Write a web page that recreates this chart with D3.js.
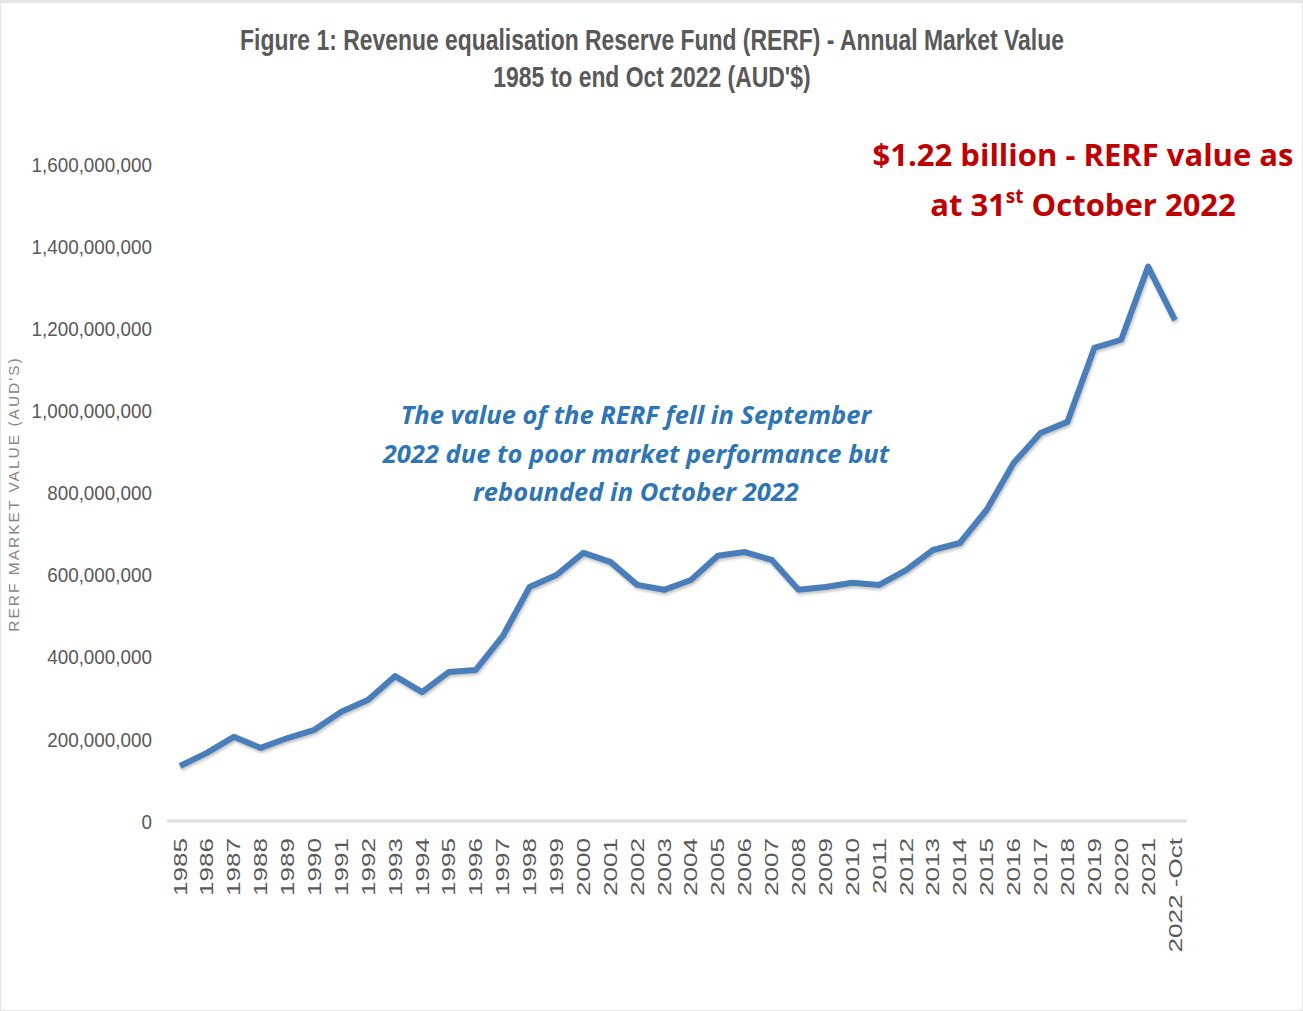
<!DOCTYPE html>
<html>
<head>
<meta charset="utf-8">
<script src="https://cdn.jsdelivr.net/npm/d3@7"></script>
<style>
  body { margin: 0; background: #fff; }
  svg { display: block; }
  .title { font-family: "Liberation Sans", Arial, sans-serif; font-weight: bold; fill: #595959; font-size: 29px; }
  .tick text { font-family: "Liberation Sans", Arial, sans-serif; fill: #595959; }
  .note { font-family: "Open Sans", "Noto Sans", sans-serif; font-style: italic; font-weight: bold; fill: #2E75B6; font-size: 25.5px; }
  .red { font-family: "Open Sans", "Noto Sans", sans-serif; font-weight: bold; fill: #C00000; font-size: 31px; }
</style>
</head>
<body>
<svg id="chart" width="1303" height="1011"></svg>
<script>
const years = ["1985","1986","1987","1988","1989","1990","1991","1992","1993","1994",
  "1995","1996","1997","1998","1999","2000","2001","2002","2003","2004",
  "2005","2006","2007","2008","2009","2010","2011","2012","2013","2014",
  "2015","2016","2017","2018","2019","2020","2021","2022 -Oct"];

const marketValue = [134e6, 166e6, 205e6, 178e6, 202e6, 222e6, 266e6, 295e6, 353e6, 314e6,
  363e6, 368e6, 450e6, 570e6, 599e6, 653e6, 631e6, 575e6, 563e6, 587e6,
  646e6, 655e6, 636e6, 563e6, 570e6, 580e6, 575e6, 611e6, 660e6, 677e6,
  758e6, 872e6, 945e6, 972e6, 1152e6, 1172e6, 1350e6, 1220e6];

const yTicks = [0, 200e6, 400e6, 600e6, 800e6, 1000e6, 1200e6, 1400e6, 1600e6];

const svg = d3.select("#chart");

// faint frame like the screenshot
svg.append("rect").attr("x", 0.5).attr("y", 0.5).attr("width", 1302).attr("height", 1010)
  .attr("fill", "none").attr("stroke", "#e3e3e3");
svg.append("rect").attr("x", 0).attr("y", 0).attr("width", 1303).attr("height", 3).attr("fill", "#e6e6e6");

const x = d3.scalePoint().domain(years).range([180, 1175]);
const y = d3.scaleLinear().domain([0, 1600e6]).range([821, 164]);

// title (narrow face in the original, so squeeze it)
const titleLines = ["Figure 1: Revenue equalisation Reserve Fund (RERF) - Annual Market Value",
  "1985 to end Oct 2022 (AUD'$)"];
svg.selectAll(".title").data(titleLines).enter().append("text")
  .attr("class", "title")
  .attr("transform", (d, i) => `translate(652,${50 + i * 37}) scale(0.79,1)`)
  .attr("text-anchor", "middle")
  .text(d => d);

// y axis
const yAxis = svg.append("g")
  .attr("transform", "translate(160,0)")
  .call(d3.axisLeft(y).tickValues(yTicks).tickFormat(d3.format(",")).tickSize(0).tickPadding(8));
yAxis.select(".domain").remove();
yAxis.selectAll(".tick text")
  .attr("font-size", 20.5)
  .attr("dy", "0.35em")
  .attr("x", -8 / 0.92)
  .attr("transform", "scale(0.92,1)");

svg.append("text")
  .attr("transform", "translate(19,494) rotate(-90)")
  .attr("text-anchor", "middle")
  .attr("font-family", "Liberation Sans, Arial, sans-serif")
  .attr("font-size", 15.5)
  .attr("letter-spacing", 2)
  .attr("fill", "#878787")
  .text("RERF MARKET VALUE (AUD'S)");

// x axis
const xAxis = svg.append("g")
  .attr("transform", "translate(0,821)")
  .call(d3.axisBottom(x).tickSize(0).tickSizeOuter(0).tickPadding(0));
xAxis.select(".domain").remove();
xAxis.selectAll(".tick text")
  .attr("font-size", 18)
  .attr("text-anchor", "end")
  .attr("transform", "translate(6,17) rotate(-90) scale(1.45,1)")
  .attr("dy", 0).attr("y", 0).attr("x", 0);

svg.append("line")
  .attr("x1", 167).attr("x2", 1187)
  .attr("y1", y(0)).attr("y2", y(0))
  .attr("stroke", "#e0e0e0").attr("stroke-width", 3);

// soft shadow under the line
const defs = svg.append("defs");
const f = defs.append("filter").attr("id", "shadow").attr("x", "-5%").attr("y", "-5%").attr("width", "110%").attr("height", "110%");
f.append("feDropShadow").attr("dx", 1).attr("dy", 2).attr("stdDeviation", 1.5)
  .attr("flood-color", "#000").attr("flood-opacity", 0.25);

const line = d3.line()
  .x((d, i) => x(years[i]))
  .y(d => y(d));

svg.append("path")
  .datum(marketValue)
  .attr("d", line)
  .attr("fill", "none")
  .attr("stroke", "#4A7EBB")
  .attr("stroke-width", 6)
  .attr("stroke-linejoin", "round")
  .attr("filter", "url(#shadow)");

// blue note
const noteLines = ["The value of the RERF fell in September",
  "2022 due to poor market performance but",
  "rebounded in October 2022"];
svg.selectAll(".note").data(noteLines).enter().append("text")
  .attr("class", "note")
  .attr("x", 636)
  .attr("y", (d, i) => 424 + i * 38.5)
  .attr("text-anchor", "middle")
  .text(d => d);

// red callout
svg.append("text").attr("class", "red").attr("x", 1083).attr("y", 166)
  .attr("text-anchor", "middle").text("$1.22 billion - RERF value as");
const red2 = svg.append("text").attr("class", "red").attr("x", 1083).attr("y", 216)
  .attr("text-anchor", "middle");
red2.append("tspan").text("at 31");
red2.append("tspan").attr("font-size", 19).attr("dy", -13).text("st");
red2.append("tspan").attr("dy", 13).text(" October 2022");
</script>
</body>
</html>
